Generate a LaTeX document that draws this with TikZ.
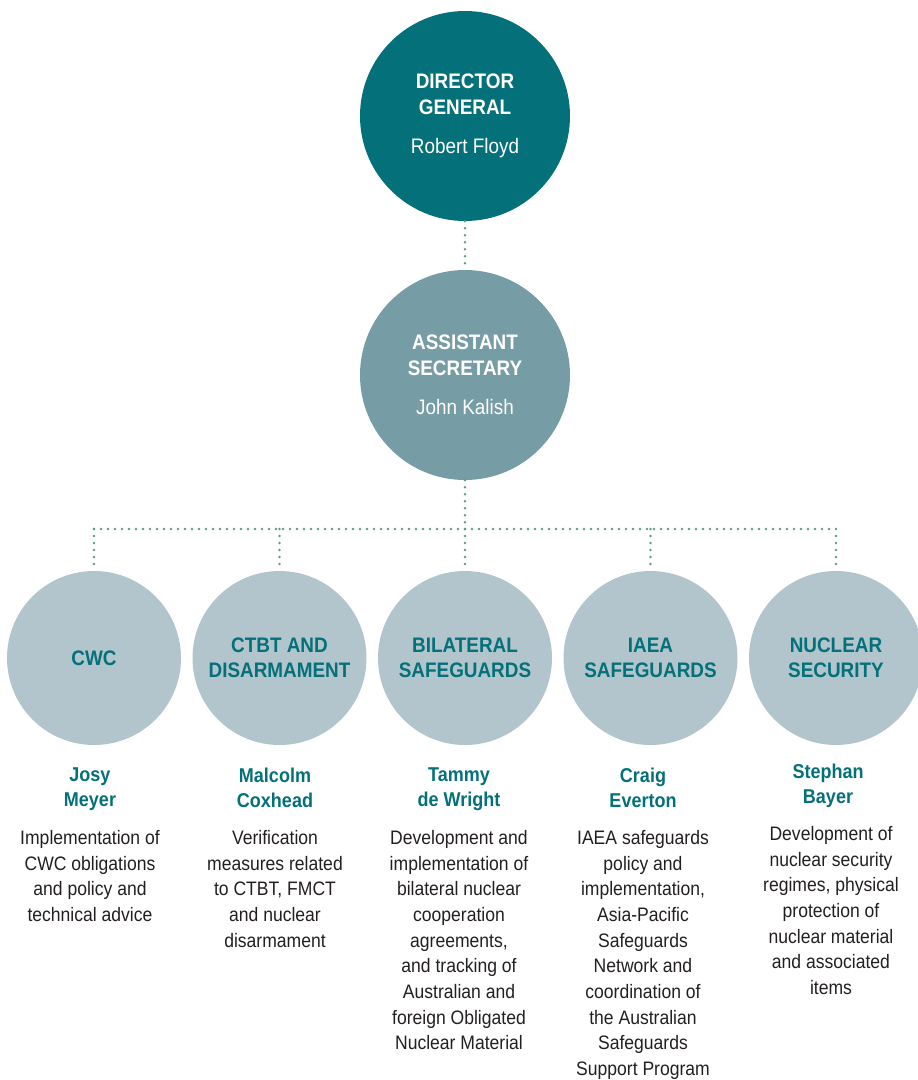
\documentclass[tikz,border=0pt]{standalone}
\usepackage{fontspec}
\setmainfont{Liberation Sans}[FakeStretch=0.9]
\usetikzlibrary{positioning}
\definecolor{deepteal}{HTML}{03707A}
\definecolor{midteal}{HTML}{769CA5}
\definecolor{paleteal}{HTML}{B3C5CC}
\definecolor{dotgreen}{HTML}{5E9C88}
\definecolor{bodytext}{HTML}{231F20}
\tikzset{
  head/.style = {circle, fill=#1, minimum size=210pt, inner sep=0pt, text=white, align=center, font=\fontsize{21}{26}\selectfont},
  unit/.style = {circle, fill=paleteal, minimum size=174pt, inner sep=0pt, text=deepteal, align=center, font=\fontsize{21}{25}\selectfont\bfseries},
  who/.style = {anchor=north, inner sep=0pt, align=center, text=deepteal, font=\fontsize{20}{25}\selectfont\bfseries},
  duty/.style = {anchor=north, inner sep=0pt, align=center, text=bodytext, font=\fontsize{19.5}{25.7}\selectfont},
  link/.style = {draw=dotgreen, line width=2.6pt, line cap=round, dash pattern=on 0pt off 7pt}
}

\begin{document}
\begin{tikzpicture}[x=1pt, y=-1pt]
  \useasboundingbox (0,0) rectangle (918,1080);

  % top of the tree
  \node[head=deepteal] (dg) at (465,116) {\textbf{DIRECTOR}\\\textbf{GENERAL}\\[13pt]Robert Floyd};
  \node[head=midteal] (as) at (465,375) {\textbf{ASSISTANT}\\\textbf{SECRETARY}\\[13pt]John Kalish};

  % the five sections
  \path (94,658) node[unit] (cwc) {CWC}
      ++(185.5,0) node[unit] (ctbt) {CTBT AND\\DISARMAMENT}
      ++(185.5,0) node[unit] (bil) {BILATERAL\\SAFEGUARDS}
      ++(185.5,0) node[unit] (iaea) {IAEA\\SAFEGUARDS}
      ++(185.5,0) node[unit] (nuc) {NUCLEAR\\SECURITY};

  % heads of section
  \node[who] (cwcwho) at (90,767.5) {Josy\\Meyer};
  \node[who] (ctbtwho) at (275,767.5) {Malcolm\\Coxhead};
  \node[who] (bilwho) at (459,767.5) {Tammy\\de Wright};
  \node[who] (iaeawho) at (643,767.5) {Craig\\Everton};
  \node[who] (nucwho) at (828,763.5) {Stephan\\Bayer};

  % what each section does
  \node[duty] (cwcduty) at (90,830) {Implementation of\\CWC obligations\\and policy and\\technical advice};
  \node[duty] (ctbtduty) at (275,830) {Verification\\measures related\\to CTBT, FMCT\\and nuclear\\disarmament};
  \node[duty] (bilduty) at (459,830) {Development and\\implementation of\\bilateral nuclear\\cooperation\\agreements,\\and tracking of\\Australian and\\foreign Obligated\\Nuclear Material};
  \node[duty] (iaeaduty) at (643,830) {IAEA safeguards\\policy and\\implementation,\\Asia-Pacific\\Safeguards\\Network and\\coordination of\\the Australian\\Safeguards\\Support Program};
  \node[duty] (nucduty) at (831,826) {Development of\\nuclear security\\regimes, physical\\protection of\\nuclear material\\and associated\\items};

  % dotted reporting lines
  \coordinate (bus) at (465,529);
  \draw[link] (dg) -- (as);
  \draw[link] (as) -- (bus);
  \draw[link] (cwc |- bus) -- (nuc |- bus);
  \foreach \n in {cwc, ctbt, bil, iaea, nuc}
    \draw[link] (\n |- bus) -- (\n);
\end{tikzpicture}
\end{document}
